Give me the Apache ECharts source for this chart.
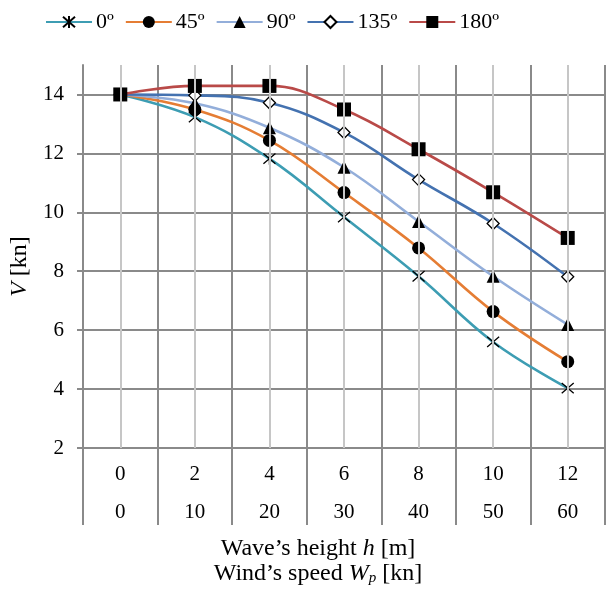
<!DOCTYPE html>
<html><head><meta charset="utf-8">
<script src="https://cdn.jsdelivr.net/npm/echarts@6/dist/echarts.min.js"></script>
<style>html,body{margin:0;padding:0;background:#fff}#c{width:606px;height:589px}</style>
</head><body><div id="c"></div>
<script>
const waveHeight = ['0','2','4','6','8','10','12'];
const windSpeed = ['0','10','20','30','40','50','60'];
const yTicks = [2,4,6,8,10,12,14];
const seriesNames = ['0º','45º','90º','135º','180º'];
const v0 = [14, 13.23, 11.82, 9.84, 7.83, 5.6, 4.03];
const v45 = [14, 13.49, 12.44, 10.67, 8.79, 6.63, 4.93];
const v90 = [14, 13.7, 12.87, 11.53, 9.69, 7.83, 6.19];
const v135 = [14, 13.97, 13.72, 12.71, 11.11, 9.62, 7.81];
const v180 = [14, 14.29, 14.29, 13.49, 12.14, 10.68, 9.13];

const FONT = 'Liberation Serif';
const categories = waveHeight.map((h, i) => h + '\n' + windSpeed[i]);
const values = [v0, v45, v90, v135, v180];
const colors = ['#3D9DB3', '#E57D34', '#93AEDA', '#4472B0', '#B94A48'];
const symbols = ['path://M0,0L12,12M0,12L12,0M6,-1L6,13', 'circle', 'triangle', 'diamond', 'rect'];
const symbolSizes = [12, 13, 13, 12, 14];
const fills = ['#000', '#000', '#000', '#fff', '#000'];

const chart = echarts.init(document.getElementById('c'));
const series = values.map((d, i) => ({
  name: seriesNames[i],
  type: 'line',
  data: d,
  smooth: 0.4,
  z: 3,
  symbol: symbols[i],
  symbolSize: symbolSizes[i],
  lineStyle: { color: colors[i], width: 2.6 },
  itemStyle: { color: fills[i], borderColor: '#000', borderWidth: (i === 0 || i === 3) ? 1.3 : 0 },
  emphasis: { disabled: true }
}));
series.unshift({
  type: 'line', data: [], z: 1, silent: true,
  markLine: {
    silent: true, symbol: ['none', 'none'], label: { show: false },
    lineStyle: { color: '#c6c6c6', width: 2, type: 'solid' },
    emphasis: { disabled: true },
    data: categories.map(c => ({ xAxis: c }))
  }
});

chart.setOption({
  animation: false,
  backgroundColor: '#fff',
  textStyle: { fontFamily: FONT, color: '#000' },
  legend: {
    data: seriesNames,
    left: 45, top: 11, padding: 0,
    itemWidth: 46, itemHeight: 15, itemGap: 11,
    textStyle: { fontFamily: FONT, fontSize: 22, color: '#000', padding: [0, 0, 0, -1] }
  },
  grid: { left: 83, right: 1, top: 65, bottom: 141, containLabel: false, outerBoundsMode: 'none' },
  xAxis: {
    type: 'category',
    data: categories,
    boundaryGap: true,
    axisLine: { show: true, lineStyle: { color: '#8a8a8a', width: 2 } },
    axisTick: { show: true, length: 77, lineStyle: { color: '#8a8a8a', width: 2 } },
    splitLine: { show: true, lineStyle: { color: '#8a8a8a', width: 2 } },
    axisLabel: { fontFamily: FONT, fontSize: 21, color: '#000', lineHeight: 38, margin: 7, interval: 0 },
    name: "{n|Wave’s height }{i|h}{n| [m]}\n{n|Wind’s speed }{i|W}{s|p}{n| [kn]}",
    nameLocation: 'middle',
    nameGap: 73,
    nameTextStyle: {
      fontFamily: FONT, fontSize: 24, color: '#000', lineHeight: 25, padding: [0, 52, 0, 0],
      rich: {
        n: { fontFamily: FONT, fontSize: 24, lineHeight: 25 },
        i: { fontFamily: FONT, fontSize: 24, fontStyle: 'italic', lineHeight: 25 },
        s: { fontFamily: FONT, fontSize: 15, fontStyle: 'italic', lineHeight: 25, verticalAlign: 'bottom', padding: [9, 0, 0, 0] }
      }
    }
  },
  yAxis: {
    type: 'value',
    min: 2, max: 15, interval: 2,
    axisLine: { show: true, lineStyle: { color: '#8a8a8a', width: 2 } },
    axisTick: { show: true, length: 6, customValues: yTicks, lineStyle: { color: '#8a8a8a', width: 2 } },
    splitLine: { show: true, lineStyle: { color: ['#8a8a8a','#8a8a8a','#8a8a8a','#8a8a8a','#8a8a8a','#8a8a8a','#8a8a8a','rgba(0,0,0,0)'], width: 2 } },
    axisLabel: { fontFamily: FONT, fontSize: 21, color: '#000', margin: 19, customValues: yTicks },
    name: '{i|V}{n| [kn]}',
    nameLocation: 'middle',
    nameGap: 50,
    nameRotate: 90,
    nameTextStyle: {
      fontFamily: FONT, fontSize: 24, color: '#000', padding: [0, 20, 0, 0],
      rich: {
        n: { fontFamily: FONT, fontSize: 24 },
        i: { fontFamily: FONT, fontSize: 24, fontStyle: 'italic' }
      }
    }
  },
  series: series
});
</script>
</body></html>
